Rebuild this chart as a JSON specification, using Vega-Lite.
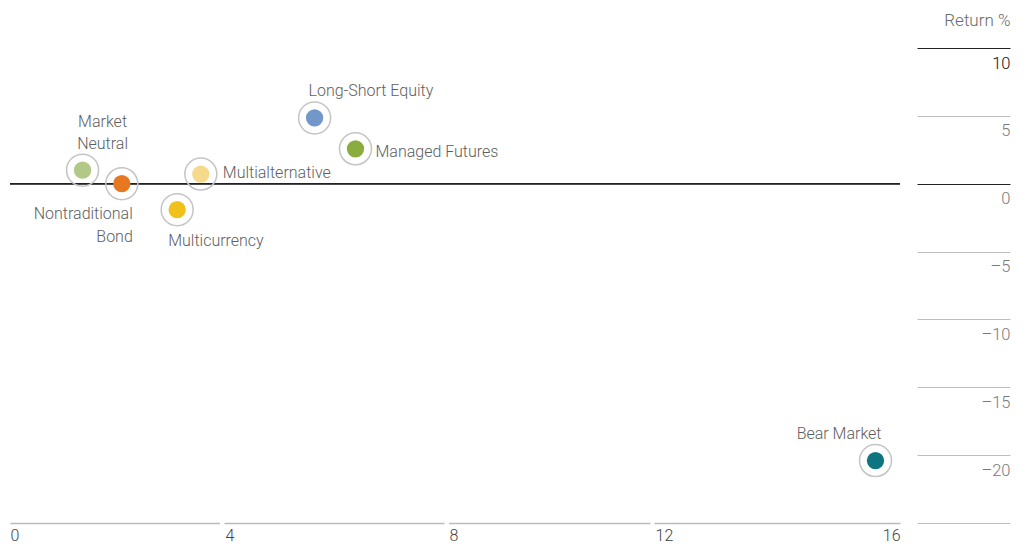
{
  "$schema": "https://vega.github.io/schema/vega-lite/v6.json",
  "autosize": "none",
  "width": 890,
  "height": 475,
  "padding": {"left": 10, "top": 48, "right": 127, "bottom": 25},
  "background": "white",
  "config": {"view": {"stroke": null}, "font": "Roboto"},
  "data": {
    "values": [
      {"category": "Market Neutral", "stdev": 1.35, "ret": 1.0},
      {"category": "Nontraditional Bond", "stdev": 2.08, "ret": 0.0},
      {"category": "Multialternative", "stdev": 3.55, "ret": 0.71},
      {"category": "Multicurrency", "stdev": 3.11, "ret": -1.91},
      {"category": "Long-Short Equity", "stdev": 5.6, "ret": 4.85},
      {"category": "Managed Futures", "stdev": 6.33, "ret": 2.57},
      {"category": "Bear Market", "stdev": 15.6, "ret": -20.4}
    ]
  },
  "encoding": {
    "x": {
      "field": "stdev", "type": "quantitative",
      "scale": {"domain": [0, 4, 8, 12, 16], "range": [0, 215, 439, 645, 890], "nice": false, "zero": false},
      "axis": {
        "values": [0, 4, 8, 12, 16],
        "domainColor": "#bbbbbb", "domainDash": [209.5, 4.5, 220, 4.5, 201.5, 4, 250], "domainWidth": 1.5,
        "ticks": false, "grid": false,
        "labelAlign": {"condition": {"test": "datum.value === 16", "value": "right"}, "value": "left"},
        "labelPadding": 4, "labelFontSize": 16, "labelColor": "#444444", "labelFont": "Roboto", "labelFontWeight": 300,
        "labelFlush": false, "labelOverlap": false, "title": null
      }
    },
    "y": {
      "field": "ret", "type": "quantitative",
      "scale": {"domain": [-25, 10], "nice": false, "zero": false},
      "axis": {
        "orient": "right", "offset": 110,
        "values": [-25, -20, -15, -10, -5, 0, 5, 10],
        "domain": false, "grid": false, "ticks": true, "tickSize": -93, "tickWidth": 1,
        "tickColor": {"condition": {"test": "datum.value === 0 || datum.value === 10", "value": "#222222"}, "value": "#bdbdbd"},
        "labelAlign": "right", "labelBaseline": "alphabetic", "labelPadding": 93, "labelOffset": 20,
        "labelFontSize": 16.5, "labelFont": "Roboto", "labelFontWeight": 300, "labelOverlap": false, "labelFlush": false,
        "labelColor": {"condition": {"test": "datum.value === 10", "value": "#111111"}, "value": "#7a7a7a"},
        "labelExpr": "datum.value === -25 ? '' : (datum.value < 0 ? '–' + abs(datum.value) : '' + datum.value)",
        "title": "Return %", "titleAngle": 0, "titleAlign": "right", "titleBaseline": "middle",
        "titleX": 0, "titleY": -28, "titleFontSize": 17, "titleFontWeight": 300, "titleColor": "#6a6a6a", "titleFont": "Roboto"
      }
    }
  },
  "layer": [
    {
      "mark": {"type": "rule", "color": "#222222", "strokeWidth": 1},
      "encoding": {"y": {"datum": 0}, "x": {"datum": 0}, "x2": {"datum": 16}}
    },
    {
      "mark": {"type": "point", "shape": "circle", "filled": false, "size": 1024, "stroke": "#c4c4c4", "strokeWidth": 1.5, "opacity": 1}
    },
    {
      "mark": {"type": "point", "shape": "circle", "filled": true, "size": 300, "opacity": 1},
      "encoding": {
        "color": {
          "field": "category", "type": "nominal", "legend": null,
          "scale": {
            "domain": ["Market Neutral", "Nontraditional Bond", "Multialternative", "Multicurrency", "Long-Short Equity", "Managed Futures", "Bear Market"],
            "range": ["#b2c886", "#e87722", "#f6d98b", "#f0c11b", "#7198c8", "#8bad3f", "#0e7580"]
          }
        }
      }
    },
    {
      "transform": [{"filter": "datum.category === 'Market Neutral'"}],
      "mark": {"type": "text", "align": "center", "baseline": "alphabetic", "dx": 20, "dy": -43, "lineBreak": " ", "lineHeight": 22, "fontSize": 16, "font": "Roboto", "fontWeight": 300, "color": "#5e5e5e"},
      "encoding": {"text": {"field": "category"}}
    },
    {
      "transform": [{"filter": "datum.category === 'Nontraditional Bond'"}],
      "mark": {"type": "text", "align": "right", "baseline": "alphabetic", "dx": 11, "dy": 35, "lineBreak": " ", "lineHeight": 23, "fontSize": 16, "font": "Roboto", "fontWeight": 300, "color": "#5e5e5e"},
      "encoding": {"text": {"field": "category"}}
    },
    {
      "transform": [{"filter": "datum.category === 'Multicurrency'"}],
      "mark": {"type": "text", "align": "left", "baseline": "alphabetic", "dx": -9, "dy": 36, "fontSize": 16, "font": "Roboto", "fontWeight": 300, "color": "#5e5e5e"},
      "encoding": {"text": {"field": "category"}}
    },
    {
      "transform": [{"filter": "datum.category === 'Multialternative'"}],
      "mark": {"type": "text", "align": "left", "baseline": "alphabetic", "dx": 22, "dy": 4, "fontSize": 16, "font": "Roboto", "fontWeight": 300, "color": "#5e5e5e"},
      "encoding": {"text": {"field": "category"}}
    },
    {
      "transform": [{"filter": "datum.category === 'Long-Short Equity'"}],
      "mark": {"type": "text", "align": "left", "baseline": "alphabetic", "dx": -6, "dy": -22, "fontSize": 16, "font": "Roboto", "fontWeight": 300, "color": "#5e5e5e"},
      "encoding": {"text": {"field": "category"}}
    },
    {
      "transform": [{"filter": "datum.category === 'Managed Futures'"}],
      "mark": {"type": "text", "align": "left", "baseline": "alphabetic", "dx": 20, "dy": 8, "fontSize": 16, "font": "Roboto", "fontWeight": 300, "color": "#5e5e5e"},
      "encoding": {"text": {"field": "category"}}
    },
    {
      "transform": [{"filter": "datum.category === 'Bear Market'"}],
      "mark": {"type": "text", "align": "right", "baseline": "alphabetic", "dx": 6, "dy": -22, "fontSize": 16, "font": "Roboto", "fontWeight": 300, "color": "#5e5e5e"},
      "encoding": {"text": {"field": "category"}}
    }
  ]
}
